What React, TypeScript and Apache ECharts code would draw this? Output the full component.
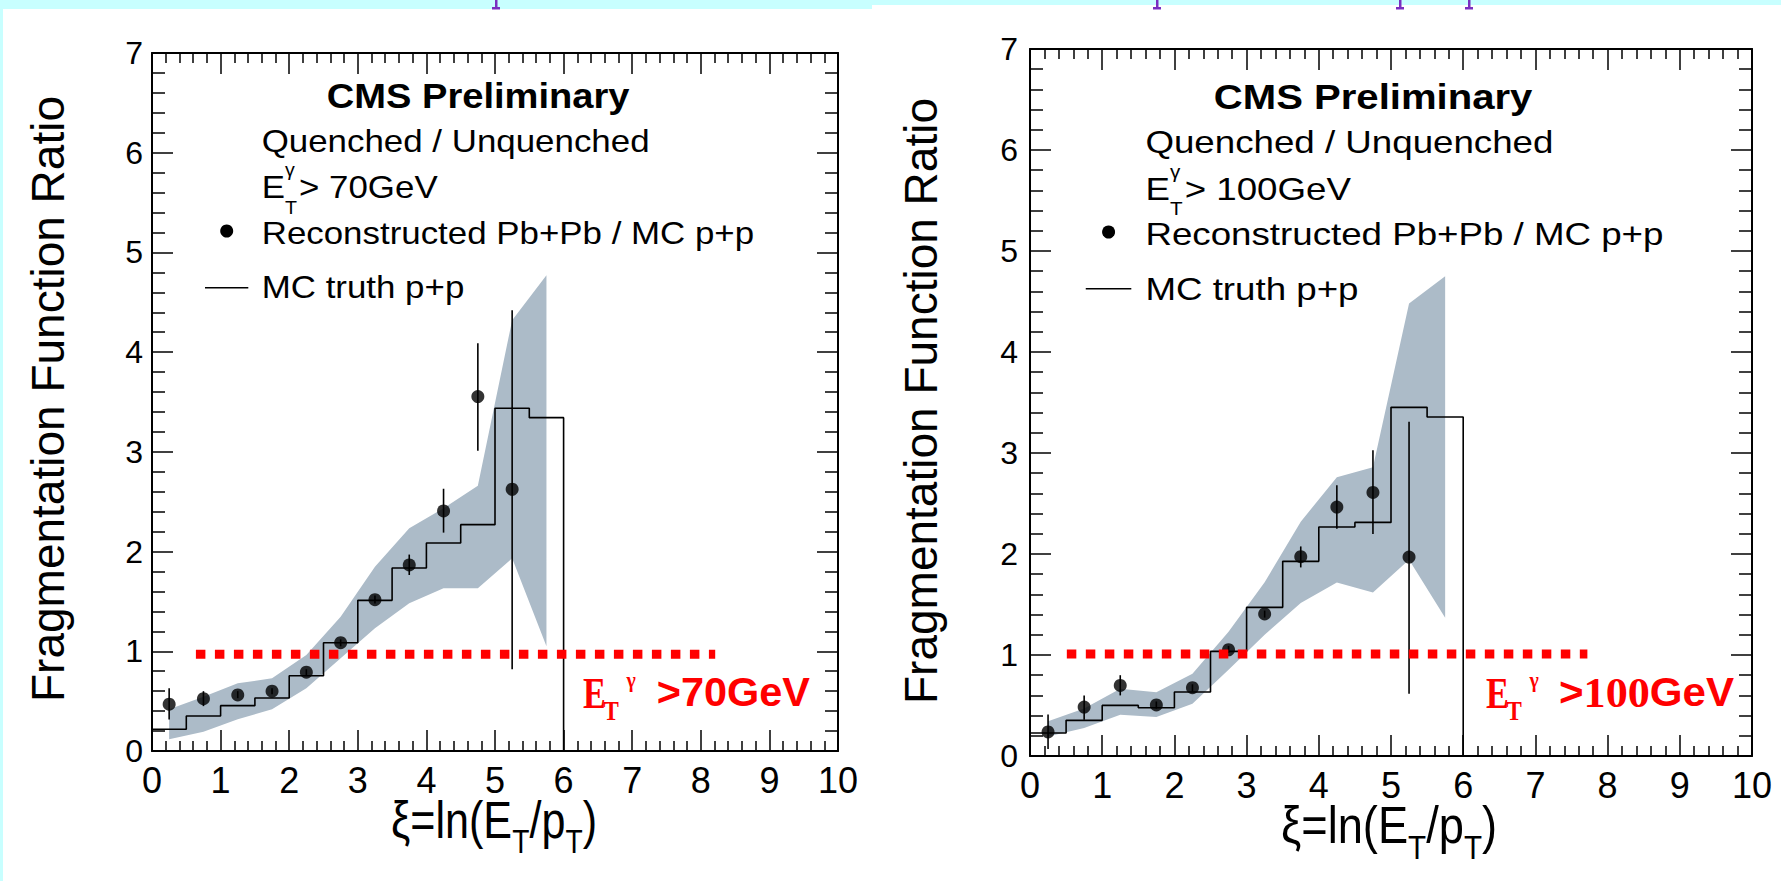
import React, { useEffect, useRef } from 'react';
import * as echarts from 'echarts';

const W = 1781;
const H = 881;
const SANS = '"Liberation Sans", Arial, Helvetica, sans-serif';
const SERIF = '"Liberation Serif", "Times New Roman", serif';
const BAND = '#acbbc8';
const CYAN = '#c8ffff';
const PURPLE = '#7a2fc0';

// ---------------- data ----------------
const binEdges = [0, 0.5, 1, 1.5, 2, 2.5, 3, 3.5, 4, 4.5, 5, 5.5, 6];
const pointX = [0.25, 0.75, 1.25, 1.75, 2.25, 2.75, 3.25, 3.75, 4.25, 4.75, 5.25];
const bandX = [0.25, 0.75, 1.25, 1.75, 2.25, 2.75, 3.25, 3.75, 4.25, 4.75, 5.25, 5.75];

// left panel: E_T^gamma > 70 GeV
const mc70 = [0.218, 0.351, 0.455, 0.532, 0.755, 1.086, 1.511, 1.835, 2.086, 2.27, 3.437, 3.343];
const reco70 = [0.47, 0.525, 0.562, 0.6, 0.79, 1.086, 1.518, 1.866, 2.407, 3.554, 2.625];
const reco70Lo = [0.315, 0.45, 0.53, 0.57, 0.76, 1.05, 1.48, 1.765, 2.19, 3.01, 0.82];
const reco70Hi = [0.63, 0.6, 0.6, 0.63, 0.82, 1.12, 1.56, 1.97, 2.63, 4.09, 4.42];
const band70Hi = [0.418, 0.545, 0.679, 0.729, 0.963, 1.347, 1.849, 2.234, 2.434, 2.66, 4.32, 4.77];
const band70Lo = [0.117, 0.194, 0.318, 0.418, 0.629, 0.93, 1.231, 1.481, 1.632, 1.632, 1.933, 1.05];
const red70 = [[0.64, 0.97], [8.21, 0.97]];

// right panel: E_T^gamma > 100 GeV
const mc100 = [0.228, 0.353, 0.501, 0.478, 0.634, 1.036, 1.472, 1.927, 2.267, 2.313, 3.452, 3.356];
const reco100 = [0.238, 0.485, 0.699, 0.505, 0.676, 1.052, 1.406, 1.973, 2.465, 2.61, 1.97];
const reco100Lo = [0.07, 0.36, 0.6, 0.47, 0.64, 1.02, 1.37, 1.867, 2.25, 2.198, 0.617];
const reco100Hi = [0.41, 0.6, 0.8, 0.54, 0.71, 1.09, 1.44, 2.075, 2.68, 3.026, 3.31];
const band100Hi = [0.343, 0.47, 0.666, 0.63, 0.815, 1.23, 1.72, 2.32, 2.76, 2.86, 4.48, 4.75];
const band100Lo = [0.194, 0.277, 0.409, 0.386, 0.518, 0.854, 1.2, 1.515, 1.719, 1.62, 1.944, 1.37];
const red100 = [[0.51, 1.01], [7.72, 1.01]];

// axes
const xMin = 0, xMax = 10, xStep = 1;
const yMin = 0, yMax = 7, yStep = 1;

// texts
const yTitle = 'Fragmentation Function Ratio';
const cmsText = 'CMS Preliminary';
const quenchText = 'Quenched / Unquenched';
const recoText = 'Reconstructed Pb+Pb / MC p+p';
const mcText = 'MC truth p+p';

// ---------------- helpers ----------------
let ctx: CanvasRenderingContext2D | null = null;
function measure(t: string, size: number, weight: string, family: string) {
  if (!ctx) ctx = document.createElement('canvas').getContext('2d');
  ctx!.font = `${weight} ${size}px ${family}`;
  return ctx!.measureText(t).width;
}

function textEl(t: string, x: number, y: number, size: number, weight: string, family: string, color: string, sx: number, extra: any = {}) {
  return {
    type: 'text', x, y, scaleX: sx, silent: true, z: 50,
    style: {
      text: t, fill: color, fontSize: size, fontWeight: weight, fontFamily: family,
      textAlign: extra.align || 'left', textVerticalAlign: 'middle', align: extra.align || 'left', verticalAlign: 'middle',
    },
    rotation: extra.rotation || 0,
  };
}

type Piece = { t: string; size: number; weight?: string; family?: string; dy?: number; color?: string };

function seq(pieces: Piece[], x0: number, yc: number, xEnd: number) {
  const widths = pieces.map(p => measure(p.t, p.size, p.weight || 'normal', p.family || SANS));
  const total = widths.reduce((a, b) => a + b, 0);
  const s = (xEnd - x0) / total;
  let cx = x0;
  const out: any[] = [];
  pieces.forEach((p, i) => {
    out.push(textEl(p.t, cx, yc + (p.dy || 0), p.size, p.weight || 'normal', p.family || SANS, p.color || '#000', s));
    cx += widths[i] * s;
  });
  return out;
}

function stepPoints(vals: number[]) {
  const pts: number[][] = [];
  vals.forEach((v, i) => {
    pts.push([binEdges[i], v]);
    pts.push([binEdges[i + 1], v]);
  });
  pts.push([binEdges[binEdges.length - 1], 0]);
  return pts;
}

function xAxis(gi: number, pos: 'bottom' | 'top') {
  return {
    type: 'value', gridIndex: gi, position: pos, min: xMin, max: xMax, interval: xStep,
    axisLine: { show: true, onZero: false, lineStyle: { color: '#000', width: 2 } },
    axisTick: { show: true, inside: true, length: 21, lineStyle: { color: '#000', width: 1.5 } },
    minorTick: { show: true, splitNumber: 5, length: 10, lineStyle: { color: '#000', width: 1.5 } },
    splitLine: { show: false }, minorSplitLine: { show: false },
    axisLabel: pos === 'bottom'
      ? { show: true, fontSize: 36, color: '#000', margin: 11, fontFamily: SANS, showMinLabel: true, showMaxLabel: true }
      : { show: false },
  };
}

function yAxis(gi: number, pos: 'left' | 'right', margin: number) {
  return {
    type: 'value', gridIndex: gi, position: pos, min: yMin, max: yMax, interval: yStep,
    axisLine: { show: true, onZero: false, lineStyle: { color: '#000', width: 2 } },
    axisTick: { show: true, inside: true, length: 21, lineStyle: { color: '#000', width: 1.5 } },
    minorTick: { show: true, splitNumber: 5, length: 13, lineStyle: { color: '#000', width: 1.5 } },
    splitLine: { show: false }, minorSplitLine: { show: false },
    axisLabel: pos === 'left'
      ? { show: true, fontSize: 32, color: '#000', margin, fontFamily: SANS, showMinLabel: true, showMaxLabel: true }
      : { show: false },
  };
}

function panelSeries(ai: number, mc: number[], reco: number[], lo: number[], hi: number[], bHi: number[], bLo: number[], red: number[][]) {
  return [
    {
      type: 'custom', xAxisIndex: ai, yAxisIndex: ai, z: 1, silent: true, clip: false,
      data: [[0, 0]],
      renderItem: (_p: any, api: any) => {
        const up = bandX.map((x, i) => api.coord([x, bHi[i]]));
        const dn = bandX.map((x, i) => api.coord([x, bLo[i]])).reverse();
        return { type: 'polygon', shape: { points: up.concat(dn) }, style: { fill: BAND } };
      },
    },
    {
      type: 'line', xAxisIndex: ai, yAxisIndex: ai, z: 2, silent: true, symbol: 'none',
      data: stepPoints(mc), lineStyle: { color: '#000', width: 1.6 },
    },
    {
      type: 'custom', xAxisIndex: ai, yAxisIndex: ai, z: 3, silent: true,
      data: pointX.map((x, i) => [x, lo[i], hi[i]]),
      encode: { x: 0, y: [1, 2] },
      renderItem: (_p: any, api: any) => {
        const x = api.value(0);
        const a = api.coord([x, api.value(1)]);
        const b = api.coord([x, api.value(2)]);
        return { type: 'line', shape: { x1: a[0], y1: a[1], x2: b[0], y2: b[1] }, style: { stroke: '#000', lineWidth: 1.6 } };
      },
    },
    {
      type: 'scatter', xAxisIndex: ai, yAxisIndex: ai, z: 4, silent: true,
      data: pointX.map((x, i) => [x, reco[i]]), symbol: 'circle', symbolSize: 13,
      itemStyle: { color: '#000' },
    },
    {
      type: 'line', xAxisIndex: ai, yAxisIndex: ai, z: 5, silent: true, symbol: 'none',
      data: red, lineStyle: { color: '#ff0000', width: 9, type: [9.5, 9.5], cap: 'butt' },
    },
  ];
}

function legend(map: (x: number) => number, k: number, dy: number, energy: string) {
  const sx = 1.09 * k;
  const els: any[] = [];
  const cmsW = measure(cmsText, 36, 'bold', SANS);
  els.push(textEl(cmsText, map(326.7), 95.8 + dy, 36, 'bold', SANS, '#000', (303 * k) / cmsW));
  els.push(textEl(quenchText, map(261.7), 141 + dy, 32, 'normal', SANS, '#000', sx));
  const ex = map(261.7);
  els.push(textEl('E', ex, 187.5 + dy, 32, 'normal', SANS, '#000', sx));
  const xs = ex + measure('E', 32, 'normal', SANS) * sx;
  els.push(textEl('γ', xs, 170 + dy, 18, 'normal', SANS, '#000', sx));
  els.push(textEl('T', xs, 207.5 + dy, 18, 'normal', SANS, '#000', sx));
  els.push(textEl('> ' + energy + 'GeV', map(299), 187.5 + dy, 32, 'normal', SANS, '#000', sx));
  els.push({ type: 'circle', silent: true, z: 50, shape: { cx: map(226.7), cy: 231 + dy, r: 6.5 }, style: { fill: '#000' } });
  els.push(textEl(recoText, map(261.7), 233.3 + dy, 32, 'normal', SANS, '#000', sx));
  els.push({ type: 'line', silent: true, z: 50, shape: { x1: map(205), y1: 287.7 + dy, x2: map(248.3), y2: 287.7 + dy }, style: { stroke: '#000', lineWidth: 1.6 } });
  els.push(textEl(mcText, map(261.7), 287.5 + dy, 32, 'normal', SANS, '#000', sx));
  return els;
}

function buildOption() {
  const leftMap = (x: number) => x;
  const rightMap = (x: number) => 1030 + (x - 152) * 1.052;

  const graphics: any[] = [
    { type: 'rect', silent: true, z: 0, shape: { x: 0, y: 0, width: 872, height: 9 }, style: { fill: CYAN } },
    { type: 'rect', silent: true, z: 0, shape: { x: 872, y: 0, width: W - 872, height: 5 }, style: { fill: CYAN } },
    { type: 'rect', silent: true, z: 0, shape: { x: 0, y: 0, width: 3, height: H }, style: { fill: CYAN } },
  ];
  [496, 1157, 1400, 1469].forEach(px => {
    graphics.push({ type: 'rect', silent: true, z: 1, shape: { x: px - 1, y: 0, width: 2.5, height: 9 }, style: { fill: PURPLE } });
    graphics.push({ type: 'rect', silent: true, z: 1, shape: { x: px - 4, y: 7, width: 8, height: 2.5 }, style: { fill: PURPLE } });
  });

  graphics.push(textEl(yTitle, 48, 399, 46, 'normal', SANS, '#000', 1, { align: 'center', rotation: Math.PI / 2 }));
  graphics.push(textEl(yTitle, 921, 401, 46, 'normal', SANS, '#000', 1, { align: 'center', rotation: Math.PI / 2 }));

  const xt = (x0: number, x1: number, yc: number) => seq([
    { t: 'ξ=ln(E', size: 52 },
    { t: 'T', size: 34, dy: 22 },
    { t: '/p', size: 52 },
    { t: 'T', size: 34, dy: 22 },
    { t: ')', size: 52 },
  ], x0, yc, x1);
  graphics.push(...xt(391, 597, 820));
  graphics.push(...xt(1281, 1497, 825));

  graphics.push(...legend(leftMap, 1, 0, '70'));
  graphics.push(...legend(rightMap, 1.052, 1, '100'));

  const redLabel = (x0: number, restX: number, restEnd: number, parts: Piece[]) => {
    const R = '#ff0000';
    const out: any[] = [];
    out.push(textEl('E', x0, 694, 44, 'bold', SERIF, R, 0.78));
    out.push(textEl('T', x0 + 20.5, 711, 27, 'bold', SERIF, R, 0.85));
    out.push(textEl('γ', x0 + 43.5, 680, 22, 'bold', SERIF, R, 0.9));
    out.push(...seq(parts.map(p => ({ ...p, color: R })), restX, 692.5, restEnd));
    return out;
  };
  graphics.push(...redLabel(583, 656.7, 810, [{ t: '>70GeV', size: 40, weight: 'bold' }]));
  graphics.push(...redLabel(1486, 1559, 1734, [
    { t: '>', size: 40, weight: 'bold' },
    { t: '100', size: 42, weight: 'bold', family: SERIF },
    { t: 'GeV', size: 40, weight: 'bold' },
  ]));

  return {
    animation: false,
    backgroundColor: '#ffffff',
    textStyle: { fontFamily: SANS },
    grid: [
      { left: 152, top: 53, width: 686, height: 698 },
      { left: 1030, top: 49, width: 722, height: 707 },
    ],
    xAxis: [xAxis(0, 'bottom'), xAxis(0, 'top'), xAxis(1, 'bottom'), xAxis(1, 'top')],
    yAxis: [yAxis(0, 'left', 9), yAxis(0, 'right', 9), yAxis(1, 'left', 12), yAxis(1, 'right', 12)],
    series: [
      ...panelSeries(0, mc70, reco70, reco70Lo, reco70Hi, band70Hi, band70Lo, red70),
      ...panelSeries(2, mc100, reco100, reco100Lo, reco100Hi, band100Hi, band100Lo, red100),
    ],
    graphic: { elements: graphics },
  };
}

export default function App() {
  const ref = useRef<HTMLDivElement>(null);
  useEffect(() => {
    const chart = echarts.init(ref.current!, null, { renderer: 'svg' });
    chart.setOption(buildOption() as any);
    return () => chart.dispose();
  }, []);
  return (
    <div
      ref={ref}
      style={{ position: 'absolute', left: 0, top: 0, width: W, height: H, background: '#fff' }}
    />
  );
}
